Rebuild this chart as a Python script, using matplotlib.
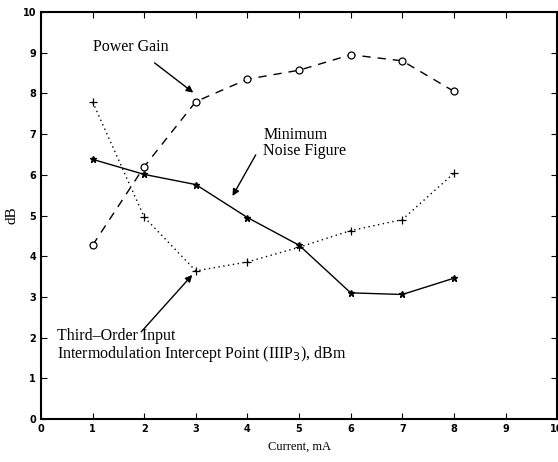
import matplotlib.pyplot as plt

current = [1, 2, 3, 4, 5, 6, 7, 8]
power_gain = [4.27, 6.2, 7.8, 8.35, 8.57, 8.95, 8.8, 8.05]
noise_fig = [6.38, 6.01, 5.76, 4.95, 4.27, 3.1, 3.06, 3.46]
iip3 = [7.79, 4.96, 3.64, 3.86, 4.22, 4.63, 4.9, 6.04]
ticks = list(range(11))

plt.rcParams['font.family'] = ['Liberation Serif', 'DejaVu Serif']

fig = plt.figure(figsize=(5.58, 4.62), dpi=100)
ax = fig.add_axes([0.0735, 0.093, 0.925, 0.881])

ax.plot(current, power_gain, color='black', ls=(0, (6, 5)), lw=1.0,
        marker='o', ms=5, mfc='white', mec='black', mew=0.9)
ax.plot(current, noise_fig, color='black', ls='-', lw=1.0,
        marker='*', ms=5)
ax.plot(current, iip3, color='black', ls=(0, (1, 2.5)), lw=1.0,
        marker='+', ms=6, mew=0.9)

ax.set_xlim(0, 10)
ax.set_ylim(0, 10)
ax.set_xticks(ticks)
ax.set_yticks(ticks)
ax.tick_params(direction='in', top=True, right=True, length=4, width=0.8, labelsize=7)
for lbl in ax.get_xticklabels() + ax.get_yticklabels():
    lbl.set_family('DejaVu Sans')
    lbl.set_fontweight('bold')
for s in ax.spines.values():
    s.set_linewidth(1.5)

ax.set_xlabel('Current, mA', fontsize=9, labelpad=5)
ax.set_ylabel('dB', fontsize=11, labelpad=3)

arrow = dict(arrowstyle='-|>', color='black', lw=1.0, mutation_scale=10,
             shrinkA=0, shrinkB=0)

ax.text(1.0, 9.13, 'Power Gain', fontsize=11.5, ha='left', va='center')
ax.annotate('', xy=(2.95, 8.02), xytext=(2.2, 8.75), arrowprops=arrow)

ax.text(4.31, 6.77, 'Minimum\nNoise Figure', fontsize=11.5, ha='left', va='center',
        linespacing=1.0)
ax.annotate('', xy=(3.71, 5.48), xytext=(4.16, 6.49), arrowprops=arrow)

ax.text(0.31, 1.79, 'Third\u2013Order Input\nIntermodulation Intercept Point (IIIP$_3$), dBm',
        fontsize=11.5, ha='left', va='center', linespacing=1.0)
ax.annotate('', xy=(2.93, 3.54), xytext=(1.94, 2.14), arrowprops=arrow)

fig.savefig('out.png', dpi=100)
